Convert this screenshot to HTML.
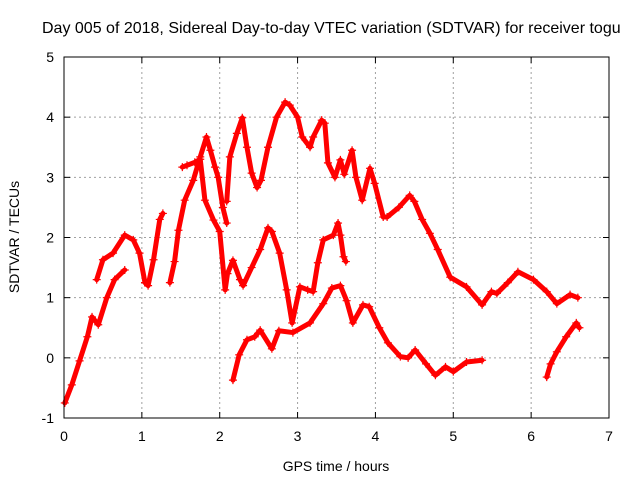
<!DOCTYPE html>
<html><head><meta charset="utf-8"><style>
body{margin:0;background:#fff}
svg text{font-family:"Liberation Sans",sans-serif;font-size:14px;fill:#000}
</style></head><body>
<svg id="c" width="640" height="480">
<rect width="640" height="480" fill="#fff"/>
<g id="grid"></g><g id="marks"></g><g id="axes"></g>
<text x="42" y="33" style="font-size:16px">Day 005 of 2018, Sidereal Day-to-day VTEC variation (SDTVAR) for receiver togu</text>
<text x="336" y="471" text-anchor="middle">GPS time / hours</text>
<text transform="translate(19,237) rotate(-90)" text-anchor="middle">SDTVAR / TECUs</text>
</svg>
<script>
const xTicks=[0,1,2,3,4,5,6,7];
const yTicks=[-1,0,1,2,3,4,5];
const segA_t=[0.01,0.1,0.2,0.3,0.36,0.44,0.55,0.65,0.78];
const segA_v=[-0.75,-0.45,-0.05,0.35,0.68,0.55,1.0,1.3,1.46];
const segB_t=[0.42,0.5,0.63,0.78,0.89,0.97,1.04,1.08,1.15,1.23,1.27];
const segB_v=[1.3,1.63,1.74,2.04,1.96,1.74,1.25,1.2,1.63,2.3,2.4];
const segC_t=[1.36,1.42,1.47,1.55,1.66,1.75,1.83,1.88,1.94,1.98,2.04,2.09];
const segC_v=[1.25,1.6,2.12,2.62,2.95,3.34,3.67,3.45,3.17,3.0,2.5,2.24];
const segD_t=[1.52,1.58,1.68,1.75,1.81,1.92,2.0,2.07,2.1,2.17,2.26,2.3,2.41,2.52,2.62,2.67,2.77,2.86,2.93,3.03,3.13,3.2,3.26,3.33,3.46,3.52,3.55,3.59,3.62];
const segD_v=[3.17,3.2,3.25,3.3,2.62,2.29,2.1,1.13,1.4,1.62,1.3,1.2,1.5,1.8,2.16,2.1,1.74,1.13,0.58,1.18,1.13,1.1,1.58,1.96,2.04,2.24,2.04,1.68,1.6];
const segE_t=[2.09,2.13,2.22,2.29,2.35,2.41,2.48,2.53,2.62,2.73,2.84,2.9,3.0,3.06,3.16,3.2,3.31,3.35,3.39,3.48,3.55,3.6,3.7,3.75,3.83,3.93,3.99,4.1,4.15,4.3,4.44,4.5,4.6,4.7,4.8,4.96,5.17,5.37,5.49,5.56,5.7,5.83,6.03,6.2,6.33,6.5,6.6];
const segE_v=[2.6,3.34,3.73,3.99,3.5,3.07,2.83,2.95,3.5,4.0,4.25,4.2,4.0,3.67,3.5,3.67,3.95,3.9,3.24,3.0,3.29,3.05,3.45,3.0,2.62,3.15,2.9,2.34,2.34,2.5,2.7,2.6,2.3,2.07,1.8,1.34,1.18,0.88,1.1,1.07,1.25,1.43,1.3,1.1,0.9,1.05,1.0];
const segF_t=[2.17,2.25,2.35,2.45,2.52,2.67,2.76,2.94,3.16,3.33,3.44,3.55,3.63,3.71,3.84,3.92,4.05,4.16,4.32,4.42,4.51,4.65,4.77,4.9,5.0,5.17,5.37];
const segF_v=[-0.37,0.05,0.3,0.35,0.46,0.15,0.45,0.42,0.58,0.9,1.16,1.2,0.95,0.58,0.88,0.85,0.5,0.25,0.02,0.0,0.13,-0.1,-0.29,-0.15,-0.23,-0.07,-0.04];
const segG_t=[6.2,6.25,6.33,6.45,6.58,6.62];
const segG_v=[-0.32,-0.1,0.1,0.35,0.58,0.5];
const L=64,R=609,T=57,B=418;
const X=t=>L+(t-0)/7*(R-L), Y=v=>B-(v+1)/6*(B-T);
const NS="http://www.w3.org/2000/svg";
function mk(tag,attrs,parent){const e=document.createElementNS(NS,tag);for(const k in attrs)e.setAttribute(k,attrs[k]);parent.appendChild(e);return e;}
const grid=document.getElementById('grid'),marks=document.getElementById('marks'),axes=document.getElementById('axes');
xTicks.forEach(t=>{
 if(t>0&&t<7){const g=mk('line',{x1:X(t),x2:X(t),y1:T,y2:B,stroke:'#a0a0a0','stroke-dasharray':'2,3'},grid);
 
 }
 mk('line',{x1:X(t),x2:X(t),y1:B,y2:B-6,stroke:'#000'},axes);
 mk('line',{x1:X(t),x2:X(t),y1:T,y2:T+6,stroke:'#000'},axes);
 const tx=mk('text',{x:X(t),y:B+23,'text-anchor':'middle'},axes);tx.textContent=t;
 
 
});
yTicks.forEach(v=>{
 if(v>-1&&v<5){const g=mk('line',{x1:L,x2:R,y1:Y(v),y2:Y(v),stroke:'#a0a0a0','stroke-dasharray':'2,3'},grid);
 
 }
 mk('line',{x1:L,x2:L+6,y1:Y(v),y2:Y(v),stroke:'#000'},axes);
 mk('line',{x1:R,x2:R-6,y1:Y(v),y2:Y(v),stroke:'#000'},axes);
 const tx=mk('text',{x:L-10,y:Y(v)+5,'text-anchor':'end'},axes);tx.textContent=v;
 
 
});
const frame=mk('rect',{x:L,y:T,width:R-L,height:B-T,fill:'none',stroke:'#000'},axes);


[[segA_t,segA_v],[segB_t,segB_v],[segC_t,segC_v],[segD_t,segD_v],[segE_t,segE_v],[segF_t,segF_v],[segG_t,segG_v]].forEach(([ts,vs],i)=>{
 const pts=ts.map((t,j)=>X(t)+','+Y(vs[j])).join(' ');
 const pl=mk('polyline',{points:pts,fill:'none',stroke:'#f00','stroke-width':5,'stroke-linejoin':'round','stroke-linecap':'round'},marks);
 
 
 ts.forEach((t,j)=>{
  const x=X(t),y=Y(vs[j]);
  const p=mk('path',{d:`M${x-4},${y}H${x+4}M${x},${y-4}V${y+4}`,stroke:'#f00','stroke-width':1.2},marks);
  
  
 });
});
</script>
</body></html>
